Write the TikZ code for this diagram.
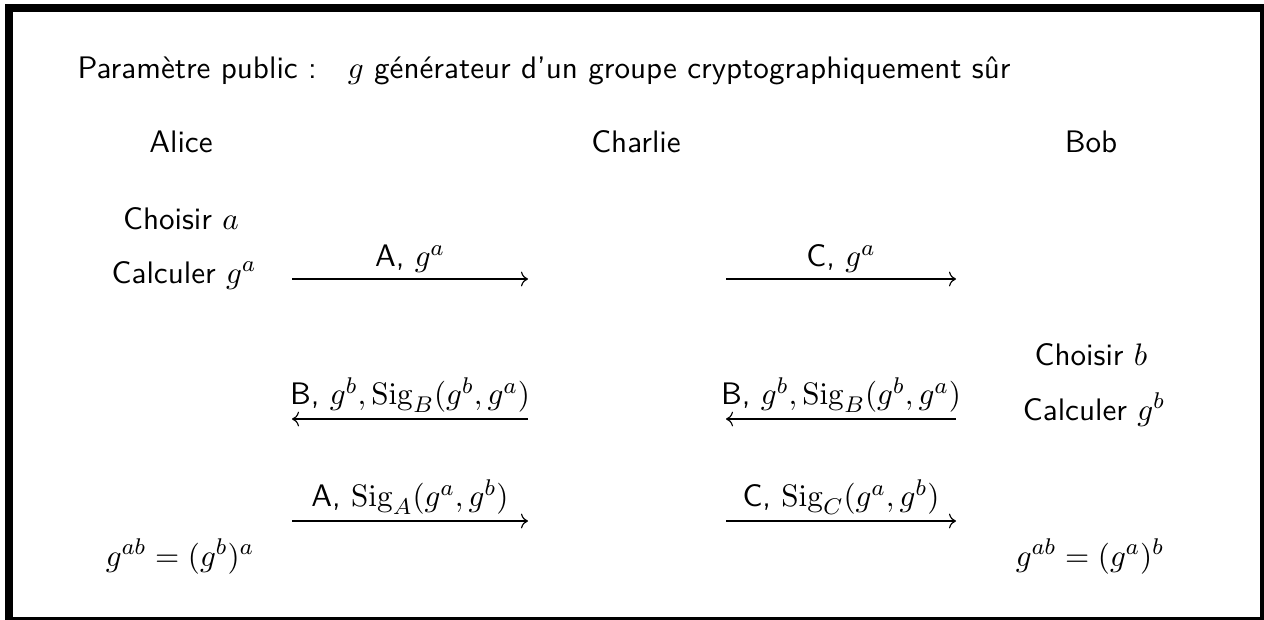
\documentclass[tikz,border=0pt]{standalone}
\usepackage{amsmath}
\usepackage{tikz}
\usetikzlibrary{
  arrows.meta,
  positioning
}
\tikzset{
  % Thick frame around the exchange
  cadre/.style={draw=black, line width=2.8pt},
  % Party names and local computations
  txt/.style={anchor=base, inner sep=0pt, font=\fontsize{10.95}{13}\selectfont\sffamily},
  % Message arrow
  msg/.style={-{Computer Modern Rightarrow}, line width=0.4pt},
  % Label over a message arrow
  lbl/.style={above=2pt, inner sep=0pt, font=\fontsize{10.95}{13}\selectfont\sffamily}
}

\begin{document}
\begin{tikzpicture}[x=0.352pt, y=-0.352pt]

  \useasboundingbox (0,0) rectangle (1264,619);
  \draw[cadre] (9,8) rectangle (1264,621);

  % Public parameter
  \node[txt, anchor=base west] (param) at (77,78)
    {Paramètre public :\quad $g$ générateur d'un groupe cryptographiquement sûr};

  % Parties
  \node[txt] (alice) at (181,152) {Alice};
  \node[txt] (charlie) at (636,152) {Charlie};
  \node[txt] (bob) at (1091,152) {Bob};

  % Alice side
  \node[txt] (choixa) at (181,229) {Choisir $a$};
  \node[txt] (calca) at (184,283) {Calculer $g^a$};
  \node[txt] (clea) at (180,566) {$g^{ab} = (g^b)^a$};

  % Bob side
  \node[txt] (choixb) at (1091,365) {Choisir $b$};
  \node[txt] (calcb) at (1094,420) {Calculer $g^b$};
  \node[txt] (cleb) at (1090,566) {$g^{ab} = (g^a)^b$};

  % Arrow ends, Alice--Charlie and Charlie--Bob
  \coordinate (ac1) at (292,279);  \coordinate (ca1) at (528,279);
  \coordinate (ac2) at (292,419);  \coordinate (ca2) at (528,419);
  \coordinate (ac3) at (292,521);  \coordinate (ca3) at (528,521);
  \coordinate (cb1) at (726,279);  \coordinate (bc1) at (956,279);
  \coordinate (cb2) at (726,419);  \coordinate (bc2) at (956,419);
  \coordinate (cb3) at (726,521);  \coordinate (bc3) at (956,521);

  % Messages
  \draw[msg] (ac1) -- node[lbl] {A, $g^a$} (ca1);
  \draw[msg] (cb1) -- node[lbl] {C, $g^a$} (bc1);
  \draw[msg] (ca2) -- node[lbl] {B, $g^b, \mathrm{Sig}_B(g^b, g^a)$} (ac2);
  \draw[msg] (bc2) -- node[lbl] {B, $g^b, \mathrm{Sig}_B(g^b, g^a)$} (cb2);
  \draw[msg] (ac3) -- node[lbl] {A, $\mathrm{Sig}_A(g^a, g^b)$} (ca3);
  \draw[msg] (cb3) -- node[lbl] {C, $\mathrm{Sig}_C(g^a, g^b)$} (bc3);

\end{tikzpicture}
\end{document}
